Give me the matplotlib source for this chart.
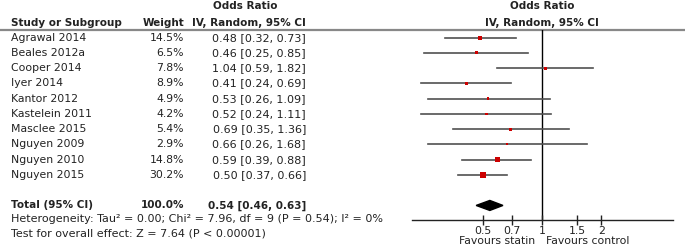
import numpy as np
import matplotlib
matplotlib.use("Agg")
import matplotlib.pyplot as plt

studies = ["Agrawal 2014", "Beales 2012a", "Cooper 2014", "Iyer 2014", "Kantor 2012",
           "Kastelein 2011", "Masclee 2015", "Nguyen 2009", "Nguyen 2010", "Nguyen 2015"]
weights = [14.5, 6.5, 7.8, 8.9, 4.9, 4.2, 5.4, 2.9, 14.8, 30.2]
odds = [0.48, 0.46, 1.04, 0.41, 0.53, 0.52, 0.69, 0.66, 0.59, 0.50]
ci_low = [0.32, 0.25, 0.59, 0.24, 0.26, 0.24, 0.35, 0.26, 0.39, 0.37]
ci_high = [0.73, 0.85, 1.82, 0.69, 1.09, 1.11, 1.36, 1.68, 0.88, 0.66]
total = (0.54, 0.46, 0.63)
total_weight = 100.0
xticks = [0.5, 0.7, 1, 1.5, 2]
xtick_labels = ["0.5", "0.7", "1", "1.5", "2"]
het_text = "Heterogeneity: Tau\u00b2 = 0.00; Chi\u00b2 = 7.96, df = 9 (P = 0.54); I\u00b2 = 0%"
test_text = "Test for overall effect: Z = 7.64 (P < 0.00001)"

W, H = 685, 249
INK = "#222222"
RED = "#cc0000"
FS = 7.8      # body text
FSB = 7.5     # bold header / total
FSN = 8.0     # numeric column and footer lines (a touch wider in the original)

plt.rcParams.update({"font.family": "DejaVu Sans", "text.color": INK})
fig = plt.figure(figsize=(W / 100, H / 100), dpi=100)

# text layer in pixel coordinates
ax_t = fig.add_axes([0, 0, 1, 1])
ax_t.set_xlim(0, W); ax_t.set_ylim(H, 0); ax_t.axis("off")

ROW0, DY = 37.7, 15.25
def ypx(i):
    return ROW0 + DY * i

# forest panel (log odds ratio)
x0, x1 = 411.7, 673.0
y_top, y_axis = 30.0, 220.0
fx = fig.add_axes([x0 / W, 1 - y_axis / H, (x1 - x0) / W, (y_axis - y_top) / H])
fx.set_facecolor("none")
fx.set_xscale("log")
fx.set_xlim(0.216, 4.63)
fx.set_ylim((y_axis - ROW0) / DY, (y_top - ROW0) / DY)
for s in ("top", "right", "left"):
    fx.spines[s].set_visible(False)
fx.spines["bottom"].set_color(INK)
fx.spines["bottom"].set_linewidth(1.0)
fx.set_yticks([])
fx.set_xticks(xticks)
fx.set_xticklabels(xtick_labels, fontsize=FS)
fx.minorticks_off()
fx.tick_params(axis="x", direction="inout", length=7, width=1, pad=1, colors=INK)

rows = np.arange(len(studies))
for i in rows:
    fx.plot([ci_low[i], ci_high[i]], [i, i], color="#505050", lw=1.2, zorder=2)
side_px = np.sqrt(weights) * 1.15
fx.scatter(odds, rows, marker="s", s=(side_px * 0.72) ** 2, color=RED,
           linewidths=0, zorder=3)
tr = len(studies) + 1
est, lo, hi = total
h = 5.0 / DY
fx.fill([lo, est, hi, est], [tr, tr - h, tr, tr + h], color="black", zorder=3)
fx.axvline(1, color="black", lw=1.0, zorder=1)

# header
ax_t.axhline(y_top, color="#888888", lw=1.6)
bold = dict(fontweight="bold", fontsize=FSB, va="center")
ax_t.text(11, 22.7, "Study or Subgroup", ha="left", **bold)
ax_t.text(184, 22.7, "Weight", ha="right", **bold)
ax_t.text(245, 6, "Odds Ratio", ha="center", **bold)
ax_t.text(306, 22.7, "IV, Random, 95% CI", ha="right", **bold)
ax_t.text(542, 6, "Odds Ratio", ha="center", **bold)
ax_t.text(542, 22.7, "IV, Random, 95% CI", ha="center", **bold)

# study rows
for i, name in enumerate(studies):
    y = ypx(i)
    ax_t.text(11, y, name, ha="left", va="center", fontsize=FS)
    ax_t.text(184, y, f"{weights[i]:.1f}%", ha="right", va="center", fontsize=FS)
    ax_t.text(306, y, f"{odds[i]:.2f} [{ci_low[i]:.2f}, {ci_high[i]:.2f}]",
              ha="right", va="center", fontsize=FSN)

yt = ypx(tr)
ax_t.text(11, yt, "Total (95% CI)", ha="left", **bold)
ax_t.text(184, yt, f"{total_weight:.1f}%", ha="right", **bold)
ax_t.text(306, yt, f"{est:.2f} [{lo:.2f}, {hi:.2f}]", ha="right", **bold)
ax_t.text(11, 219, het_text, ha="left", va="center", fontsize=FSN)
ax_t.text(11, 233, test_text, ha="left", va="center", fontsize=FSN)

ax_t.text(535, 241, "Favours statin", ha="right", va="center", fontsize=FS)
ax_t.text(546, 241, "Favours control", ha="left", va="center", fontsize=FS)

fig.savefig("out.png", dpi=100, facecolor="white")
